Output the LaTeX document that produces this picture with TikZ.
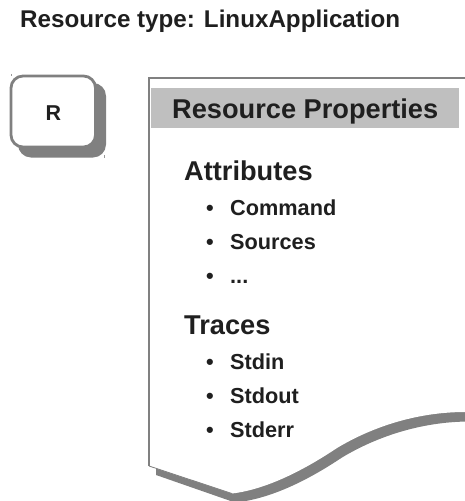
\documentclass[tikz,border=0pt]{standalone}
\usepackage{fontspec}
\setmainfont{Liberation Sans}
\tikzset{
  lbl/.style={anchor=base west,inner sep=0pt,text=black!88,font=\bfseries\fontsize{#1}{#1}\selectfont},
  lbl/.default=16
}
\definecolor{sdw}{HTML}{808080}
\definecolor{hdr}{HTML}{BFBFBF}
\begin{document}
\begin{tikzpicture}[x=1pt,y=-1pt]
\useasboundingbox (0,0) rectangle (465,501);
% R box
\fill[sdw,rounded corners=13pt] (18,83) rectangle (106,157.5);
\draw[sdw,line width=2.8pt,fill=white,rounded corners=12pt] (11,76) rectangle (95.5,147);
\draw[black!40,line width=0.4pt] (11.6,74) -- (11.6,76);
\draw[black!40,line width=0.4pt] (104.4,155) -- (104.4,158);
\node[lbl=21.5,anchor=base] (r) at (53.4,120.7) {R};
% document
\fill[sdw] (156,475) -- (235,502.5) .. controls (275,498.5) and (315,475.5) .. (342,457.5) .. controls (380,434.7) and (425,421.5) .. (470,421.5) -- (465,412) -- (300,412) -- (156,466) -- cycle;
\fill[white] (149,78) -- (465,78) -- (465,412) .. controls (420,412) and (375,425.2) .. (337,448) .. controls (310,466) and (270,489) .. (232,493.5) -- (149,466) -- cycle;
\draw[sdw,line width=1.4pt] (465,78) -- (149,78) -- (149,466);
\draw[sdw,line width=0.8pt] (149,466) -- (232,493.5);
\fill[hdr] (151,88) rectangle (459,128.3);
% text
\node[lbl=24.2] (title) at (20,27.5) {Resource type: LinuxApplication};
\node[lbl=27.2] (props) at (172,118) {Resource Properties};
\node[lbl=27.2] (attrs) at (184,180) {Attributes};
\node[lbl=21.7] (b1) at (206,215) {•};
\node[lbl=21.7] (cmd) at (230,215) {Command};
\node[lbl=21.7] (b2) at (206,249) {•};
\node[lbl=21.7] (src) at (230,249) {Sources};
\node[lbl=21.7] (b3) at (206,283) {•};
\node[lbl=21.7] (dots) at (230,283) {...};
\node[lbl=27.2] (traces) at (184,334) {Traces};
\node[lbl=21.7] (b4) at (206,369) {•};
\node[lbl=21.7] (stdin) at (230,369) {Stdin};
\node[lbl=21.7] (b5) at (206,403) {•};
\node[lbl=21.7] (stdout) at (230,403) {Stdout};
\node[lbl=21.7] (b6) at (206,437) {•};
\node[lbl=21.7] (stderr) at (230,437) {Stderr};
\end{tikzpicture}
\end{document}
